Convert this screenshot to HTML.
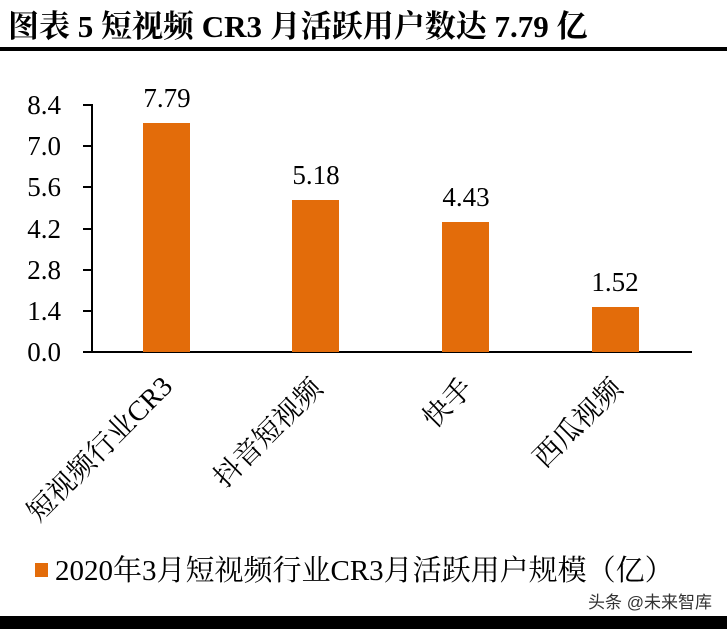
<!DOCTYPE html>
<html><head><meta charset="utf-8"><style>
body{margin:0;background:#fff;width:727px;height:629px;overflow:hidden}
svg{display:block}
</style></head><body>
<svg width="727" height="629" xmlns="http://www.w3.org/2000/svg">
<text x="8" y="37" font-family="'Liberation Serif','Noto Serif CJK SC',serif" font-size="31" font-weight="bold" fill="#000">图表 5 短视频 CR3 月活跃用户数达 7.79 亿</text>
<rect x="0" y="47" width="727" height="4" fill="#000"/>
<g font-family="'Liberation Serif',serif" font-size="27" fill="#000" text-anchor="end">
<text x="61" y="114">8.4</text>
<text x="61" y="155">7.0</text>
<text x="61" y="196">5.6</text>
<text x="61" y="238">4.2</text>
<text x="61" y="279">2.8</text>
<text x="61" y="320">1.4</text>
<text x="61" y="361">0.0</text>
</g>
<g stroke="#000" stroke-width="2">
<line x1="92" y1="104" x2="92" y2="353"/>
<line x1="83" y1="105" x2="92" y2="105"/>
<line x1="83" y1="146" x2="92" y2="146"/>
<line x1="83" y1="187" x2="92" y2="187"/>
<line x1="83" y1="229" x2="92" y2="229"/>
<line x1="83" y1="270" x2="92" y2="270"/>
<line x1="83" y1="311" x2="92" y2="311"/>
<line x1="83" y1="352" x2="692" y2="352"/>
</g>
<g fill="#E36C0A">
<rect x="143" y="123" width="47" height="229"/>
<rect x="292" y="200" width="47" height="152"/>
<rect x="442" y="222" width="47" height="130"/>
<rect x="592" y="307" width="47" height="45"/>
</g>
<g font-family="'Liberation Serif',serif" font-size="27" fill="#000" text-anchor="middle">
<text x="167" y="107">7.79</text>
<text x="316" y="184">5.18</text>
<text x="466" y="206">4.43</text>
<text x="615" y="291">1.52</text>
</g>
<g font-family="'Liberation Serif','Noto Serif CJK SC',serif" font-size="28" fill="#000" text-anchor="end">
<text transform="translate(174,388) rotate(-45)">短视频行业CR3</text>
<text transform="translate(324,390) rotate(-45)">抖音短视频</text>
<text transform="translate(474,390) rotate(-45)">快手</text>
<text transform="translate(624,390) rotate(-45)">西瓜视频</text>
</g>
<rect x="35" y="563" width="13" height="14" fill="#E36C0A"/>
<text x="55" y="580" font-family="'Liberation Serif','Noto Serif CJK SC',serif" font-size="29" fill="#000">2020年3月短视频行业CR3月活跃用户规模（亿）</text>
<text x="712" y="608" text-anchor="end" font-family="'Liberation Sans','Noto Sans CJK SC',sans-serif" font-size="17" fill="#333">头条 @未来智库</text>
<rect x="0" y="616" width="727" height="13" fill="#000"/>
</svg>
</body></html>
